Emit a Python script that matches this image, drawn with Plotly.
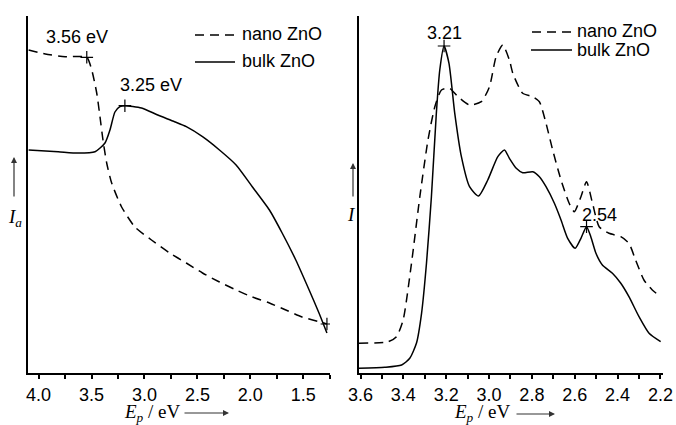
import plotly.graph_objects as go

# ---------------- data ----------------
# Left panel: I_a vs E_p
left_nano_E = [4.094, 3.937, 3.749, 3.545, 3.498, 3.451, 3.42, 3.392, 3.357, 3.31,
               3.216, 3.09, 2.934, 2.762, 2.605, 2.452, 2.292, 2.135, 1.982, 1.82,
               1.665, 1.512, 1.305, 1.277]
left_nano_I = [323, 319, 316.3, 315.7, 303, 280, 256, 233, 210, 190,
               166, 146, 133, 120, 110, 100, 91, 83, 76, 70,
               63, 56, 50, 49]
left_bulk_E = [4.094, 3.815, 3.627, 3.467, 3.373, 3.326, 3.279, 3.232, 3.185, 3.028,
               2.875, 2.716, 2.605, 2.452, 2.292, 2.135, 1.982, 1.82, 1.7, 1.571,
               1.445, 1.352, 1.277]
left_bulk_I = [223, 221.3, 220, 221.3, 230, 243, 261, 266.3, 267.3, 265,
               258, 251.3, 246.3, 236.3, 223, 208, 186.3, 163, 140, 113,
               83, 60, 40]
left_marks_E = [3.545, 3.185, 1.277]
left_marks_I = [315.7, 267.3, 49]

# Right panel: I vs E_p
right_nano_E = [3.607, 3.471, 3.432, 3.401, 3.362, 3.323, 3.285, 3.253, 3.222, 3.184,
                3.145, 3.091, 3.036, 2.998, 2.967, 2.936, 2.905, 2.889, 2.843, 2.796,
                2.765, 2.734, 2.703, 2.664, 2.626, 2.602, 2.571, 2.545, 2.517, 2.486,
                2.44, 2.385, 2.347, 2.316, 2.277, 2.238, 2.199]
right_nano_I = [29.7, 31.3, 36.3, 53, 109.7, 176.3, 233, 266.3, 283, 284.7,
                276.3, 268, 271.3, 286.3, 316.3, 328, 313, 299.7, 279.7, 276.3,
                271.3, 249.7, 223, 193, 169.7, 161.3, 176.3, 191.3, 169.7, 146.3,
                139.7, 136.3, 129.7, 113, 93, 83, 76.3]
right_bulk_E = [3.607, 3.486, 3.408, 3.37, 3.339, 3.315, 3.292, 3.269, 3.246, 3.23,
                3.21, 3.187, 3.16, 3.129, 3.091, 3.049, 3.006, 2.959, 2.928, 2.905,
                2.873, 2.843, 2.796, 2.765, 2.734, 2.695, 2.664, 2.633, 2.598, 2.571,
                2.545, 2.525, 2.501, 2.471, 2.424, 2.385, 2.347, 2.3, 2.253, 2.199]
right_bulk_I = [4.7, 5.7, 8, 14.7, 29.7, 59.7, 109.7, 176.3, 259.7, 303,
                327, 309.7, 259.7, 216.3, 186.3, 177, 193, 216.3, 223, 214.7,
                204.7, 200.3, 201.3, 196.3, 186.3, 169.7, 153, 134.7, 124.7, 134.7,
                146.3, 136.3, 119.7, 108, 99.7, 89.7, 76.3, 56.3, 39.7, 31.3]
right_marks_E = [3.21, 2.545]
right_marks_I = [327, 146.3]

left_ticks = [4.0, 3.5, 3.0, 2.5, 2.0, 1.5]
right_ticks = [3.6, 3.4, 3.2, 3.0, 2.8, 2.6, 2.4, 2.2]

W, H = 676, 425
SANS = "Liberation Sans, Arial, sans-serif"
SERIF = "Liberation Serif, Times New Roman, serif"
DASH = "9px,6px"
FS = 18

fig = go.Figure()

def line(x, y, dash, xa, ya):
    fig.add_trace(go.Scatter(x=x, y=y, mode="lines", xaxis=xa, yaxis=ya,
                             line=dict(color="black", width=1.5, dash=dash, shape="spline", smoothing=0.6),
                             showlegend=False, hoverinfo="skip"))

line(left_nano_E, left_nano_I, DASH, "x", "y")
line(left_bulk_E, left_bulk_I, "solid", "x", "y")
line(right_nano_E, right_nano_I, DASH, "x2", "y2")
line(right_bulk_E, right_bulk_I, "solid", "x2", "y2")

for xs, ys, xa, ya in [(left_marks_E, left_marks_I, "x", "y"),
                       (right_marks_E, right_marks_I, "x2", "y2")]:
    fig.add_trace(go.Scatter(x=xs, y=ys, mode="markers", xaxis=xa, yaxis=ya,
                             marker=dict(symbol="cross-thin", size=9,
                                         line=dict(color="black", width=1.2)),
                             showlegend=False, hoverinfo="skip"))

def xaxis(rng, domain, ticks, minor_dtick, tick0):
    return dict(range=rng, domain=domain, showline=True, linewidth=2, linecolor="black",
                ticks="outside", ticklen=4, tickwidth=1.5, tickcolor="black",
                tickmode="array", tickvals=ticks, ticktext=["%.1f" % t for t in ticks],
                minor=dict(ticks="outside", ticklen=4, tickwidth=1.5, tickcolor="black",
                           dtick=minor_dtick, tick0=tick0),
                showgrid=False, zeroline=False, automargin=False,
                tickfont=dict(family=SANS, size=FS, color="black"))

def yaxis(domain, anchor):
    return dict(range=[0, 357], domain=domain, anchor=anchor, showline=True, linewidth=2,
                linecolor="black", ticks="", showticklabels=False, automargin=False,
                showgrid=False, zeroline=False)

ydom = [(H - 373) / H, (H - 16) / H]
fig.update_layout(
    width=W, height=H, margin=dict(l=0, r=0, t=0, b=0, pad=0, autoexpand=False),
    paper_bgcolor="white", plot_bgcolor="white",
    xaxis=dict(xaxis([4.10, 1.248], [28 / W, 330 / W], left_ticks, 0.25, 4.0), anchor="y"),
    yaxis=yaxis(ydom, "x"),
    xaxis2=dict(xaxis([3.607, 2.188], [359 / W, 663 / W], right_ticks, 0.1, 3.6), anchor="y2"),
    yaxis2=yaxis(ydom, "x2"),
)

ann = []
def txt(x, y, s, xa="x", ya="y", size=FS, family=SANS, xanchor="center"):
    ann.append(dict(x=x, y=y, xref=xa, yref=ya, text=s, showarrow=False,
                    xanchor=xanchor, yanchor="middle",
                    font=dict(family=family, size=size, color="black")))

# peak labels
txt(3.636, 336, "3.56 eV")
txt(2.941, 288, "3.25 eV")
txt(3.21, 340, "3.21", "x2", "y2")
txt(2.486, 158, "2.54", "x2", "y2")

def px(xp, yp):
    return xp / W, 1 - yp / H

shapes = []
# legends (drawn manually)
def legend_item(x0, x1, yl, label, dash, xt, yt):
    a, b = px(x0, yl)
    c, _ = px(x1, yl)
    shapes.append(dict(type="line", xref="paper", yref="paper", x0=a, x1=c, y0=b, y1=b,
                       line=dict(color="black", width=1.5, dash=dash)))
    tx, ty = px(xt, yt)
    ann.append(dict(x=tx, y=ty, xref="paper", yref="paper", text=label, showarrow=False,
                    xanchor="left", yanchor="middle",
                    font=dict(family=SANS, size=FS, color="black")))

legend_item(195, 235, 35, "nano ZnO", DASH, 240, 34)
legend_item(195, 235, 62, "bulk ZnO", "solid", 240, 61)
legend_item(532, 572, 32, "nano ZnO", DASH, 575, 31)
legend_item(531, 572, 50, "bulk ZnO", "solid", 575, 50)

# axis titles
def label(xp, yp, s, xanchor="center"):
    tx, ty = px(xp, yp)
    ann.append(dict(x=tx, y=ty, xref="paper", yref="paper", text=s, showarrow=False,
                    xanchor=xanchor, yanchor="middle",
                    font=dict(family=SERIF, size=19, color="black")))

def arrow(x_head, y_head, dx, dy):
    hx, hy = px(x_head, y_head)
    ann.append(dict(x=hx, y=hy, xref="paper", yref="paper", text="", showarrow=True,
                    ax=dx, ay=dy, axref="pixel", ayref="pixel",
                    arrowhead=2, arrowsize=1, arrowwidth=1.2, arrowcolor="#333"))

xlab = "<i>E</i><sub><i>p</i></sub> / eV"
label(152, 413, xlab)
arrow(229, 413, -46, 0)
label(482, 413, xlab)
arrow(555, 414, -40, 0)

label(15, 218, "<i>I</i><sub><i>a</i></sub>")
arrow(14, 157, 0, 41)
label(351, 214, "<i>I</i>")
arrow(353, 163, 0, 35)

fig.update_layout(annotations=ann, shapes=shapes)
fig.write_html("out.html", config={"displayModeBar": False},
               post_script="document.body.style.margin='0';document.body.style.overflow='hidden';")
